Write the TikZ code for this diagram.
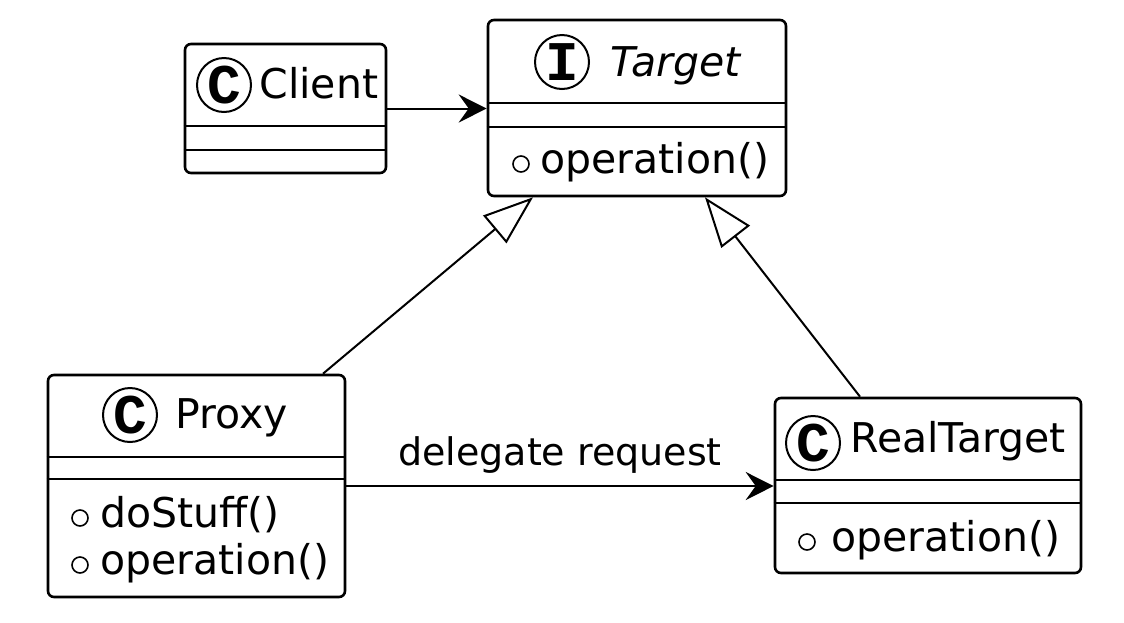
\documentclass[tikz,border=0pt]{standalone}
\usepackage{fontspec}
\setmainfont{DejaVu Sans}
\newfontfamily\iconfont{Liberation Mono}
\usetikzlibrary{arrows.meta}
\begin{document}
\begin{tikzpicture}[x=0.5pt,y=-0.5pt,
  classbox/.style={draw, line width=1.3pt, rounded corners=3pt, inner sep=0pt, fill=white},
  sepline/.style={line width=1.3pt},
  icon/.style={circle, draw, line width=1pt, minimum size=27pt, inner sep=0pt,
    font=\iconfont\bfseries\fontsize{28}{28}\selectfont},
  lbl/.style={inner sep=0pt, anchor=base west, font=\fontsize{20.5}{24}\selectfont},
  marker/.style={circle, draw, line width=0.8pt, minimum size=8pt, inner sep=0pt},
  assoc/.style={line width=1pt, -{Stealth[length=14pt, width=14pt, inset=5pt]}},
  gen/.style={line width=1pt, -{Triangle[open, length=25pt, width=18pt, line width=1pt]}},
  dlabel/.style={inner sep=0pt, anchor=base, yshift=10.5pt, font=\fontsize{19}{22}\selectfont}
]
\useasboundingbox (0,0) rectangle (1124,622);

% Client
\node[classbox, minimum width=100.5pt, minimum height=64.5pt] (client) at (285.5,108.5) {};
\draw[sepline] (client.west |- 0,126) -- (client.east |- 0,126);
\draw[sepline] (client.west |- 0,150) -- (client.east |- 0,150);
\node[icon] (clientIcon) at (224,85) {C};
\node[lbl] (clientName) at (259,98) {Client};

% Target
\node[classbox, minimum width=149pt, minimum height=88pt] (target) at (637,108) {};
\draw[sepline] (target.west |- 0,103) -- (target.east |- 0,103);
\draw[sepline] (target.west |- 0,127) -- (target.east |- 0,127);
\node[icon] (targetIcon) at (562,62) {I};
\node[lbl] (targetName) at (610,76) {\itshape Target};
\node[marker] (targetM) at (521,164) {};
\node[lbl] (targetOp) at (540,173) {operation()};

% Proxy
\node[classbox, minimum width=148.5pt, minimum height=111pt] (proxy) at (196.5,486) {};
\draw[sepline] (proxy.west |- 0,457) -- (proxy.east |- 0,457);
\draw[sepline] (proxy.west |- 0,479) -- (proxy.east |- 0,479);
\node[icon] (proxyIcon) at (130,415) {C};
\node[lbl] (proxyName) at (175,428) {Proxy};
\node[marker] (proxyM1) at (80,518) {};
\node[lbl] (proxyOp1) at (100,527) {doStuff()};
\node[marker] (proxyM2) at (80,565) {};
\node[lbl] (proxyOp2) at (100,574) {operation()};

% RealTarget
\node[classbox, minimum width=153pt, minimum height=87.5pt] (real) at (928,485.5) {};
\draw[sepline] (real.west |- 0,480) -- (real.east |- 0,480);
\draw[sepline] (real.west |- 0,503) -- (real.east |- 0,503);
\node[icon] (realIcon) at (813,443) {C};
\node[lbl] (realName) at (850,452) {RealTarget};
\node[marker] (realM) at (807,542) {};
\node[lbl] (realOp) at (831,551) {operation()};

% Connectors
\draw[assoc] (client.east) -- (client.east -| target.west);
\draw[assoc] (proxy.east) -- node[dlabel] (dlab) {delegate request} (proxy.east -| real.west);
\draw[gen] ([xshift=63.25pt]proxy.north) -- ([xshift=-52pt]target.south);
\draw[gen] ([xshift=-34pt]real.north) -- ([xshift=34pt]target.south);
\end{tikzpicture}
\end{document}
